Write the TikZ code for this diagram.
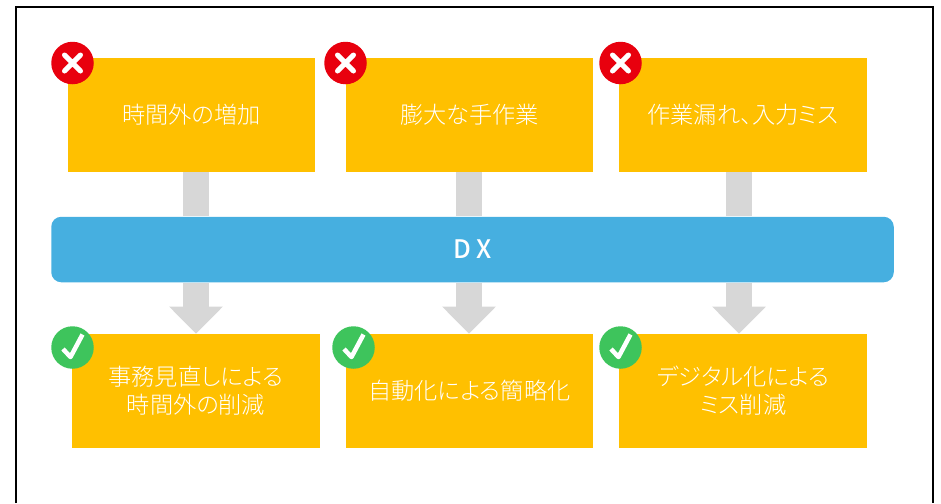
\documentclass[tikz,border=0pt]{standalone}
\usepackage{fontspec}
\setmainfont[RawFeature=+palt]{Noto Sans CJK JP Light}
\newfontfamily\dxfont{Noto Sans CJK JP Medium}
\usepackage{tikz}
\usetikzlibrary{arrows.meta,positioning}
\definecolor{dxamber}{RGB}{255,192,0}
\definecolor{dxblue}{RGB}{70,175,224}
\definecolor{dxgrey}{RGB}{215,215,215}
\definecolor{dxred}{RGB}{232,0,14}
\definecolor{dxgreen}{RGB}{62,196,92}
\tikzstyle{box} = [fill=dxamber, text=white, minimum width=4.95cm, minimum height=2.28cm, inner sep=0pt,
  align=center, font=\fontsize{13.2}{16}\selectfont]
\tikzstyle{flow} = [draw=dxgrey, line width=0.53cm]
\tikzstyle{flowhead} = [flow, -{Triangle[width=1.04cm,length=0.54cm]}]
\tikzstyle{nobadge} = [circle, fill=dxred, minimum size=0.85cm, inner sep=0pt, path picture={
  \draw[white, line width=0.1cm, line cap=round]
    ([shift={(-0.16,-0.16)}]path picture bounding box.center) -- ([shift={(0.16,0.16)}]path picture bounding box.center)
    ([shift={(-0.16,0.16)}]path picture bounding box.center) -- ([shift={(0.16,-0.16)}]path picture bounding box.center);}]
\tikzstyle{okbadge} = [circle, fill=dxgreen, minimum size=0.85cm, inner sep=0pt, path picture={
  \draw[white, line width=0.09cm, line join=round]
    ([shift={(-0.19,-0.03)}]path picture bounding box.center) -- ([shift={(-0.04,-0.19)}]path picture bounding box.center)
    -- ([shift={(0.2,0.26)}]path picture bounding box.center);}]
\begin{document}
\begin{tikzpicture}
\useasboundingbox (0,0) rectangle (18.82,-10.06);
% Outer frame
\draw[line width=0.04cm] (0.326,-10.06) -- (0.326,-0.14) -- (18.65,-0.14) -- (18.65,-10.06);

% Problems
\node[box] (prob1) at (3.83,-2.30) {時間外の増加};
\node[box] (prob2) at (9.39,-2.30) {膨大な手作業};
\node[box] (prob3) at (14.86,-2.30) {作業漏れ、入力ミス};

% Middle band
\node[fill=dxblue, rounded corners=0.2cm, minimum width=16.85cm, minimum height=1.31cm, inner sep=0pt,
  text=white, font=\dxfont\fontsize{14.5}{16}\selectfont] (dx) at (9.45,-4.99) {D X};

% Results
\node[box] (res1) at (3.92,-7.82) {事務見直しによる\\時間外の削減};
\node[box] (res2) at (9.39,-7.82) {自動化による簡略化};
\node[box] (res3) at (14.86,-7.82) {デジタル化による\\ミス削減};

% Arrows
\coordinate (flow1) at (3.92,-4.99);
\coordinate (flow2) at (9.38,-4.99);
\coordinate (flow3) at (14.78,-4.99);
\foreach \i in {1,2,3} {
  \draw[flow] (flow\i |- prob\i.south) -- (flow\i |- dx.north);
  \draw[flowhead] (flow\i |- dx.south) -- (flow\i |- res\i.north);
}

% Badges
\node[nobadge] (no1) at (1.45,-1.26) {};
\node[nobadge] (no2) at (6.91,-1.26) {};
\node[nobadge] (no3) at (12.41,-1.26) {};
\node[okbadge] (ok1) at (1.45,-6.95) {};
\node[okbadge] (ok2) at (7.07,-6.95) {};
\node[okbadge] (ok3) at (12.41,-6.95) {};
\end{tikzpicture}
\end{document}
